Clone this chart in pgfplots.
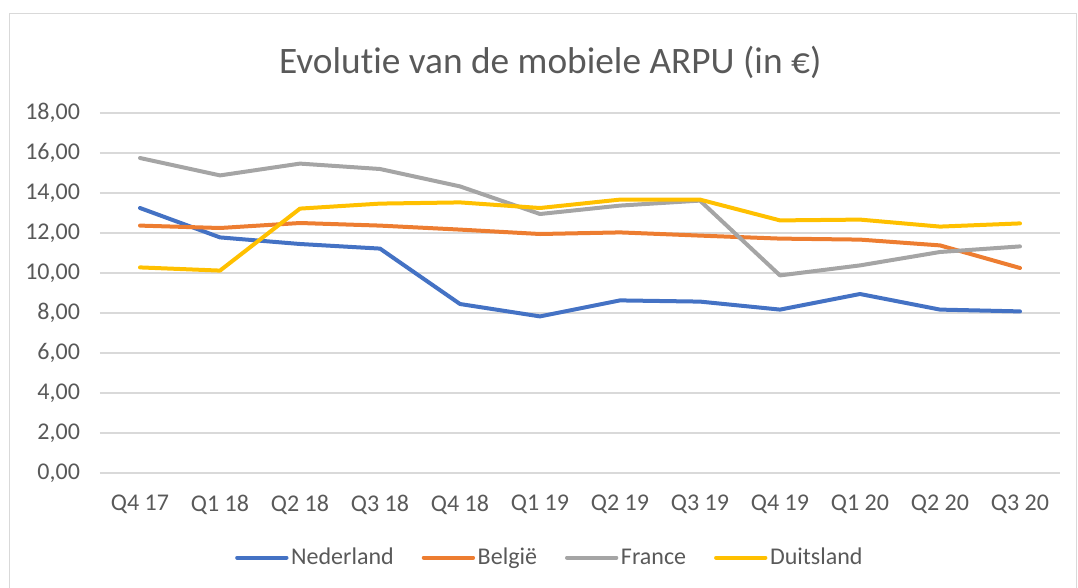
\documentclass[border=0pt]{standalone}
\usepackage{fontspec}
\setmainfont{Carlito}[Ligatures=NoCommon]
\usepackage{pgfplots}
\pgfplotsset{compat=1.18}
\definecolor{nlblue}{HTML}{4472C4}
\definecolor{beorange}{HTML}{ED7D31}
\definecolor{frgray}{HTML}{A5A5A5}
\definecolor{deyellow}{HTML}{FFC000}
\definecolor{txt}{HTML}{595959}
\definecolor{gridc}{HTML}{D9D9D9}

\begin{document}
\begin{tikzpicture}
% 1 px of the reference = 0.75pt
\useasboundingbox (-75pt,-85.5pt) rectangle (733.5pt,354.75pt);
\draw[gridc, line width=0.75pt] (-67.5pt,-86pt) -- (-67.5pt,345pt) -- (732pt,345pt) -- (732pt,-86pt);
\begin{axis}[
  scale only axis,
  width=720pt, height=270pt,
  xmin=-0.5, xmax=11.5,
  ymin=0, ymax=18,
  xtick={0,...,11},
  xticklabels={Q4 17,Q1 18,Q2 18,Q3 18,Q4 18,Q1 19,Q2 19,Q3 19,Q4 19,Q1 20,Q2 20,Q3 20},
  ytick={0,2,...,18},
  axis line style={draw=none},
  tick style={draw=none},
  ymajorgrids, grid style={gridc, line width=0.9pt},
  yticklabel style={/pgf/number format/fixed, /pgf/number format/fixed zerofill,
    /pgf/number format/precision=2, /pgf/number format/use comma,
    /pgf/number format/assume math mode=true, xshift=-11.5pt},
  ticklabel style={font=\fontsize{18}{21}\selectfont, text=txt},
  xticklabel style={yshift=-13pt},
  title={Evolutie van de mobiele ARPU (in €)},
  title style={at={(0.469,1)}, anchor=center, yshift=32pt, font=\fontsize{28}{33}\selectfont, text=txt},
  legend columns=4,
  legend style={at={(0.469,-0.235)}, anchor=center, draw=none, fill=none,
    font=\fontsize{18}{21}\selectfont, text=txt,
    /tikz/every even column/.append style={column sep=19pt}},
  legend image code/.code={\draw[#1, line cap=round] (0pt,0pt) -- (37pt,0pt);},
  every axis plot/.append style={line width=3pt, line join=round, line cap=round},
]
\addplot[nlblue] coordinates {
  (0,13.25) (1,11.78) (2,11.45) (3,11.22) (4,8.45) (5,7.83)
  (6,8.63) (7,8.57) (8,8.17) (9,8.95) (10,8.17) (11,8.08)
};
\addlegendentry{Nederland}
\addplot[beorange] coordinates {
  (0,12.37) (1,12.25) (2,12.50) (3,12.37) (4,12.17) (5,11.95)
  (6,12.03) (7,11.87) (8,11.72) (9,11.67) (10,11.38) (11,10.25)
};
\addlegendentry{België}
\addplot[frgray] coordinates {
  (0,15.75) (1,14.88) (2,15.47) (3,15.20) (4,14.33) (5,12.95)
  (6,13.37) (7,13.62) (8,9.88) (9,10.38) (10,11.05) (11,11.33)
};
\addlegendentry{France}
\addplot[deyellow] coordinates {
  (0,10.28) (1,10.12) (2,13.22) (3,13.47) (4,13.53) (5,13.25)
  (6,13.67) (7,13.67) (8,12.63) (9,12.67) (10,12.32) (11,12.48)
};
\addlegendentry{Duitsland}
\end{axis}
\end{tikzpicture}
\end{document}
